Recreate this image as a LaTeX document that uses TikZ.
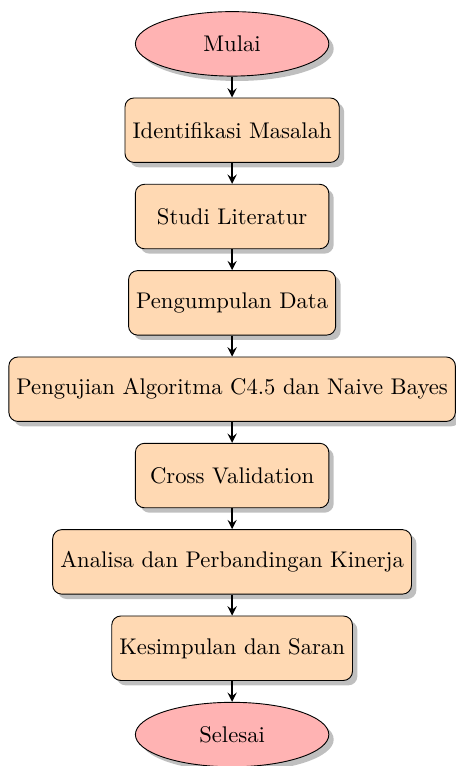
\documentclass[tikz,border=0pt]{standalone}
\usetikzlibrary{positioning, shapes.geometric, shadows}

\begin{document}
\begin{tikzpicture}[
    node distance=0.325cm,
    startstop/.style={ellipse, minimum width=3cm, minimum height=1cm, draw=borderColour, fill=endColour, drop shadow},
    process/.style={rectangle, rounded corners, minimum width=3cm, minimum height=1cm, draw=borderColour, fill=fillColour, drop shadow},
    arrow/.style={thick,->,>=stealth}
]
    % Define colors
    \definecolor{borderColour}{HTML}{000000}
    \definecolor{fillColour}{HTML}{FFD9B3}
    \definecolor{endColour}{HTML}{FFB3B3}

    % Fix the picture size
    \useasboundingbox (-3.60,0.68) rectangle (3.46,-11.20);

    % Draw the steps
    \node (mulai) [startstop] at (0,0) {Mulai};
    \node (identifikasi) [process, below=of mulai] {Identifikasi Masalah};
    \node (studi) [process, below=of identifikasi] {Studi Literatur};
    \node (pengumpulan) [process, below=of studi] {Pengumpulan Data};
    \node (pengujian) [process, below=of pengumpulan] {Pengujian Algoritma C4.5 dan Naive Bayes};
    \node (validasi) [process, below=of pengujian] {Cross Validation};
    \node (analisa) [process, below=of validasi] {Analisa dan Perbandingan Kinerja};
    \node (kesimpulan) [process, below=of analisa] {Kesimpulan dan Saran};
    \node (selesai) [startstop, below=of kesimpulan] {Selesai};

    % Draw the arrows
    \foreach \a/\b in {mulai/identifikasi, identifikasi/studi, studi/pengumpulan, pengumpulan/pengujian, pengujian/validasi, validasi/analisa, analisa/kesimpulan, kesimpulan/selesai}
        \draw [arrow] (\a) -- (\b);

\end{tikzpicture}
\end{document}
